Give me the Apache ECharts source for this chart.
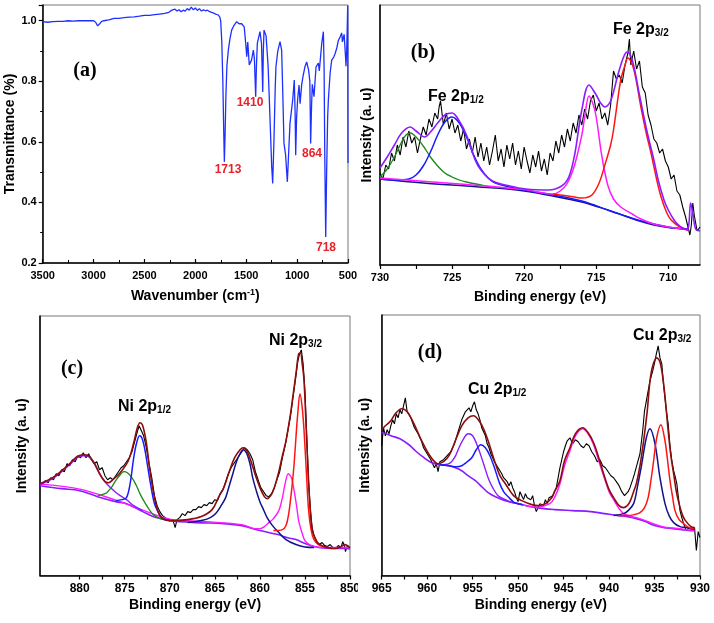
<!DOCTYPE html>
<html><head><meta charset="utf-8">
<script src="https://cdn.jsdelivr.net/npm/echarts@6/dist/echarts.min.js"></script>
<style>html,body{margin:0;padding:0;background:#fff}#c{width:714px;height:623px}</style>
</head><body><div id="c"></div>
<script>
// ---------- Panel (a): FT-IR ----------
const irTicks = [500, 1000, 1500, 2000, 2500, 3000, 3500];
const irSpectrum = [[3500,0.997],[3450,0.995],[3400,0.997],[3350,0.998],[3300,0.998],[3250,1.0],[3200,0.999],[3150,1.0],[3100,1.0],[3050,1.0],[3000,1.0],[2980,0.995],[2960,0.983],[2940,0.99],[2920,0.998],[2900,1.0],[2850,1.003],[2800,1.008],[2750,1.008],[2700,1.01],[2650,1.012],[2600,1.013],[2550,1.015],[2500,1.018],[2450,1.018],[2400,1.02],[2350,1.022],[2300,1.024],[2260,1.028],[2230,1.035],[2200,1.038],[2180,1.032],[2160,1.036],[2140,1.03],[2120,1.035],[2100,1.032],[2080,1.04],[2060,1.035],[2040,1.045],[2020,1.036],[2000,1.042],[1980,1.034],[1960,1.04],[1940,1.032],[1920,1.036],[1900,1.033],[1880,1.035],[1860,1.03],[1840,1.028],[1820,1.025],[1800,1.022],[1775,1.019],[1760,1.012],[1751,1.0],[1740,0.93],[1730,0.8],[1722,0.65],[1715,0.534],[1708,0.62],[1700,0.75],[1690,0.85],[1676,0.903],[1660,0.94],[1643,0.969],[1620,0.985],[1594,0.997],[1570,0.99],[1545,0.99],[1520,0.98],[1505,0.925],[1495,0.881],[1485,0.93],[1470,0.854],[1448,0.87],[1430,0.903],[1420,0.876],[1407,0.749],[1400,0.85],[1391,0.925],[1365,0.964],[1350,0.925],[1338,0.765],[1332,0.9],[1325,0.969],[1305,0.95],[1285,0.85],[1267,0.683],[1250,0.52],[1240,0.463],[1228,0.6],[1215,0.78],[1208,0.848],[1190,0.9],[1168,0.931],[1152,0.903],[1140,0.75],[1129,0.595],[1113,0.556],[1096,0.468],[1085,0.55],[1070,0.661],[1043,0.74],[1028,0.804],[1020,0.7],[1014,0.556],[1005,0.68],[995,0.74],[981,0.788],[971,0.726],[955,0.79],[940,0.82],[923,0.848],[906,0.864],[887,0.837],[875,0.8],[867,0.595],[858,0.72],[851,0.79],[843,0.77],[834,0.749],[814,0.848],[791,0.86],[782,0.834],[770,0.88],[758,0.925],[742,0.964],[735,0.85],[728,0.55],[719,0.286],[710,0.5],[700,0.68],[693,0.738],[675,0.83],[660,0.87],[640,0.88],[628,0.89],[610,0.91],[595,0.935],[578,0.946],[562,0.96],[555,0.93],[546,0.925],[538,0.955],[530,0.95],[524,0.88],[520,0.85],[513,0.9],[508,0.97],[503,1.05],[500,0.53]];
const irPeakLabels = ['1713', '1410', '864', '718'];

// ---------- Panel (b): Fe 2p ----------
const feTicks = [710, 715, 720, 725, 730];
const feRaw = [[730.0,92],[729.8,86],[729.6,100],[729.4,96],[729.2,112],[729.0,104],[728.8,120],[728.6,110],[728.4,128],[728.2,118],[728.0,134],[727.8,122],[727.6,128],[727.4,112],[727.2,126],[727.0,138],[726.8,130],[726.6,146],[726.4,138],[726.2,152],[726.0,146],[725.9,158],[725.8,164],[725.6,140],[725.4,152],[725.2,136],[725.0,146],[724.8,132],[724.6,140],[724.4,124],[724.2,136],[724.0,116],[723.8,126],[723.6,112],[723.4,128],[723.2,108],[723.0,122],[722.8,104],[722.6,118],[722.4,100],[722.2,114],[722.0,130],[721.8,104],[721.6,116],[721.4,98],[721.2,120],[721.0,106],[720.8,122],[720.6,100],[720.4,114],[720.2,96],[720.0,118],[719.8,104],[719.6,92],[719.4,110],[719.2,98],[719.0,114],[718.8,94],[718.6,106],[718.4,90],[718.2,112],[718.0,104],[717.8,124],[717.6,112],[717.4,130],[717.2,118],[717.0,136],[716.8,124],[716.6,142],[716.4,132],[716.2,150],[716.0,140],[715.8,156],[715.6,146],[715.4,164],[715.2,170],[715.0,154],[714.8,162],[714.6,146],[714.4,152],[714.2,140],[714.0,160],[713.8,194],[713.6,186],[713.4,190],[713.2,182],[713.0,200],[712.8,212],[712.7,226],[712.6,200],[712.4,214],[712.2,196],[712.0,204],[711.8,178],[711.6,172],[711.4,150],[711.2,140],[711.0,126],[710.8,122],[710.6,112],[710.4,116],[710.2,104],[710.0,98],[709.8,86],[709.6,90],[709.4,74],[709.2,70],[709.0,58],[708.8,48],[708.6,36],[708.5,30],[708.4,40],[708.3,62],[708.2,50],[708.0,34],[707.8,38]];
const feBackground = [[730,86],[727,82],[724,79],[722,77],[720,74],[718,69],[716,63],[714.2,55],[713,49],[712,44],[711,40],[710,37.5],[709,36],[708.6,35]];
const feGreen = [[730,88],[729.5,96],[729,108],[728.5,123],[728.2,130],[727.9,132],[727.5,128],[727,119],[726.5,108],[726,99],[725.5,92],[725,88],[724.5,85],[724,83],[723,80],[722,77]];
const feBlue = [[730,86],[729,85],[728,86],[727.5,90],[727,99],[726.5,113],[726,130],[725.5,143],[725,148],[724.5,142],[724,128],[723.5,110],[723,96],[722.5,87],[722,82],[721,78],[720,75],[718,70],[716,64],[714,54],[712,44.5],[710,38],[708.6,35.5]];
const feMagenta = [[730,87],[724,80.5],[720,75.5],[718,71],[717.5,74],[717,82],[716.5,100],[716,130],[715.8,148],[715.5,169],[715.2,160],[715,148],[714.6,108],[714.2,80],[713.8,66],[713.3,58],[712.5,51],[711.9,46],[711,41],[710,38],[709,36],[708.6,35]];
const feRed = [[718,71],[716.5,68],[716,67],[715.3,70],[714.8,82],[714.4,100],[714,120],[713.8,135],[713.3,185],[713,200],[712.8,207],[712.4,196],[711.9,158],[711.5,130],[711.2,112],[710.8,85],[710.5,68],[710.1,52],[709.8,45],[709.3,39],[708.8,36],[708.6,35]];
const feEnvelope = [[730,97],[729.5,108],[729,120],[728.5,132],[727.9,138],[727.5,134],[726.9,128],[726.5,133],[726,142],[725.5,150],[725,152],[724.5,144],[724,130],[723.4,105],[723,95],[722.2,84],[721,79],[719.9,76],[718.3,75],[717.4,79],[716.9,88],[716.5,110],[716.0,155],[715.5,180],[715.0,170],[714.7,162],[714.4,158],[714.0,164],[713.5,190],[713.1,208],[712.85,213],[712.5,205],[712,170],[711.5,135],[711,105],[710.7,85],[710.3,65],[710,55],[709.6,45],[709.3,40],[708.8,36],[708.6,38],[708.45,62],[708.3,52],[708.1,36],[707.8,34]];

// ---------- Panel (c): Ni 2p ----------
const niTicks = [850, 855, 860, 865, 870, 875, 880];
const niRaw = [[884.1,92],[883.8,95],[883.5,93],[883.2,98],[882.9,96],[882.6,102],[882.3,100],[882.0,106],[881.7,104],[881.4,112],[881.1,110],[880.8,116],[880.5,114],[880.2,120],[879.9,118],[879.6,123],[879.3,118],[879.0,122],[878.7,116],[878.4,112],[878.1,114],[877.8,106],[877.5,108],[877.2,100],[876.9,96],[876.6,98],[876.3,96],[876.0,100],[875.7,104],[875.4,108],[875.1,110],[874.8,114],[874.5,118],[874.2,124],[873.9,134],[873.6,144],[873.4,150],[873.2,146],[872.9,140],[872.6,128],[872.3,112],[872.0,98],[871.7,80],[871.4,70],[871.1,64],[870.8,60],[870.5,58],[870.2,56],[869.9,55],[869.6,54],[869.4,48],[869.2,56],[868.9,58],[868.6,62],[868.3,60],[868.0,64],[867.7,63],[867.4,66],[867.1,66],[866.8,69],[866.5,68],[866.2,71],[865.9,70],[865.6,73],[865.3,72],[865.0,76],[864.7,75],[864.4,82],[864.1,86],[863.8,94],[863.5,102],[863.2,108],[862.9,112],[862.6,116],[862.3,120],[862.0,124],[861.7,128],[861.4,126],[861.1,122],[860.8,116],[860.5,104],[860.2,96],[859.9,88],[859.6,84],[859.3,80],[859.0,79],[858.7,82],[858.4,88],[858.1,96],[857.8,104],[857.5,118],[857.2,130],[856.9,145],[856.6,160],[856.3,180],[856.0,200],[855.8,214],[855.6,222],[855.4,226],[855.2,212],[855.0,185],[854.8,140],[854.6,95],[854.4,66],[854.2,48],[854.0,40],[853.7,34],[853.4,31],[853.1,33],[852.8,30],[852.5,29],[852.2,31],[851.9,28],[851.6,27],[851.3,30],[851.0,28],[850.8,34],[850.6,29],[850.5,24],[850.3,30],[850.1,26]];
const niBackground = [[884.4,90],[882,87],[880,85],[878,79],[876,74],[874.8,72],[873,64],[871.5,58],[870,55],[867,53],[864,52],[862,50],[860,45],[858,41],[857,38],[856,36],[855,32],[854,29],[853,27.5],[851,27],[850,27]];
const niViolet = [[884.4,91],[883,97],[882,104],[881,112],[880.3,118],[879.6,120],[879,119],[878.5,114],[878,106],[877.5,98],[877,92],[876.2,85],[875.5,80],[874.8,76],[874,70],[873,65]];
const niGreen = [[878,80],[877.5,81],[877,83],[876.5,88],[876,95],[875.5,101],[875.1,104],[874.7,103],[874.2,98],[873.7,90],[873.2,80],[872.7,72],[872.2,65],[871.7,60],[871,57],[870,55]];
const niBlue = [[876,75],[875.3,76],[874.8,78],[874.4,92],[874,118],[873.7,132],[873.35,140],[873.1,138],[872.8,128],[872.5,112],[872.1,90],[871.7,72],[871.2,62],[870.8,57],[870,55]];
const niNavy = [[868,53],[866.5,55],[865.5,58],[864.9,62],[864.3,70],[863.8,78],[863.4,90],[863,102],[862.6,114],[862.2,122],[861.85,126],[861.5,123],[861.1,112],[860.8,98],[860.4,85],[860,74],[859.7,68],[859.2,58],[858.6,50],[858,44],[857.1,36],[856,31],[855,28.5],[854,28]];
const niMagenta = [[884.4,91.5],[880,86.5],[876,75.5],[873,65.5],[870,56.5],[866,54],[862,51],[860.5,47],[860,47],[859.5,49],[859,53],[858.5,57],[857.9,65],[857.5,78],[857.2,92],[856.85,102],[856.5,98],[856.2,85],[855.9,68],[855.7,55],[855.3,42],[855,35],[854.5,31],[854,29],[853,28],[850,28]];
const niRed = [[858.5,45],[857.5,46],[857.1,50],[856.8,62],[856.6,76],[856.4,92],[856.2,112],[856.0,138],[855.8,162],[855.55,182],[855.3,168],[855.1,145],[854.85,105],[854.6,66],[854.3,45],[854.0,36],[853.5,31],[853,29],[852,27]];
const niEnvelope = [[884.4,92],[883,98],[882,105],[881,113],[880.3,119],[879.6,121],[879,120],[878.4,113],[877.8,102],[877.2,94],[876.8,93],[876.2,97],[875.5,103],[874.6,115],[874,133],[873.6,148],[873.3,153],[873,150],[872.6,133],[872.2,105],[871.7,78],[871.3,64],[870.9,58],[870,55],[868,56],[866.5,59],[865.3,66],[864.5,80],[864,88],[863.4,104],[862.8,118],[862.2,126],[861.85,128],[861.4,124],[860.9,112],[860.4,98],[859.9,86],[859.5,79],[859.2,77],[858.8,80],[858.4,88],[857.9,104],[857.5,120],[857.1,135],[856.6,162],[856.3,182],[856.0,202],[855.7,222],[855.5,223],[855.3,212],[855.1,195],[854.85,145],[854.6,95],[854.4,65],[854.2,46],[853.9,38],[853.5,32],[852.5,28],[851.7,27],[851,29],[850.6,31],[850,28]];

// ---------- Panel (d): Cu 2p ----------
const cuTicks = [930, 935, 940, 945, 950, 955, 960, 965];
const cuRaw = [[965.0,130],[964.8,148],[964.6,140],[964.4,146],[964.2,142],[964.0,150],[963.8,156],[963.6,152],[963.4,162],[963.2,158],[963.0,166],[962.8,162],[962.6,170],[962.4,178],[962.2,164],[962.0,166],[961.8,158],[961.6,156],[961.4,148],[961.2,150],[961.0,142],[960.8,138],[960.6,134],[960.4,128],[960.2,130],[960.0,122],[959.8,120],[959.6,116],[959.4,118],[959.2,108],[959.0,112],[958.8,104],[958.6,114],[958.4,112],[958.2,116],[958.0,114],[957.8,120],[957.6,118],[957.4,124],[957.2,128],[957.0,132],[956.8,138],[956.6,144],[956.4,150],[956.2,156],[956.0,160],[955.8,164],[955.6,162],[955.4,168],[955.2,164],[955.0,170],[954.8,174],[954.6,166],[954.4,162],[954.2,156],[954.0,148],[953.8,146],[953.6,140],[953.4,132],[953.2,128],[953.0,122],[952.8,120],[952.6,114],[952.4,116],[952.2,108],[952.0,110],[951.8,102],[951.6,98],[951.4,96],[951.2,94],[951.0,90],[950.8,94],[950.6,88],[950.4,84],[950.2,78],[950.0,74],[949.8,84],[949.6,80],[949.4,76],[949.2,82],[949.0,78],[948.8,80],[948.6,76],[948.4,80],[948.2,70],[948.0,64],[947.8,62],[947.6,72],[947.4,74],[947.2,70],[947.0,76],[946.8,72],[946.6,78],[946.4,76],[946.2,80],[946.0,84],[945.8,88],[945.6,98],[945.4,108],[945.2,116],[945.0,124],[944.8,130],[944.6,135],[944.3,138],[944.0,132],[943.7,136],[943.4,134],[943.1,130],[942.8,128],[942.5,132],[942.2,130],[941.9,124],[941.6,120],[941.3,114],[941.0,116],[940.7,110],[940.4,108],[940.1,104],[939.8,100],[939.5,98],[939.2,94],[938.9,90],[938.6,84],[938.3,80],[938.1,78],[937.9,84],[937.7,88],[937.4,96],[937.2,102],[936.9,112],[936.6,122],[936.3,145],[936.1,165],[935.8,180],[935.5,195],[935.2,205],[934.95,215],[934.8,222],[934.6,230],[934.4,218],[934.2,212],[934.0,190],[933.85,178],[933.7,165],[933.5,152],[933.3,130],[933.1,115],[932.9,105],[932.7,98],[932.55,92],[932.4,80],[932.2,65],[932.0,58],[931.8,52],[931.5,45],[931.2,48],[930.9,46],[930.6,48],[930.4,25],[930.2,44],[930.0,38]];
const cuBackground = [[965,143],[964.5,142],[964,140],[963,137],[962,131],[961.3,125],[960.5,119],[959.5,113],[958.5,111],[957.6,110],[956.9,108],[956.2,105],[955.5,100],[954.7,95],[954,89],[953.3,83],[952.5,79],[951.4,75],[950,72],[948,68],[946,66],[944,65],[942,64],[940.5,62],[939,60],[938,59],[937,57],[936,54],[935,50],[934,48],[933,47],[932,46],[931,45],[930.6,45]];
const cuViolet = [[958.5,111],[957.6,112],[957,118],[956.5,128],[956,137],[955.5,142],[955,140],[954.4,128],[953.8,112],[953.3,98],[952.8,88],[952.2,80],[951.4,76],[950.7,73],[950,72]];
const cuBlue = [[958.6,111],[957.6,110],[956.8,109],[956.2,110],[955.6,114],[955.1,118],[954.6,126],[954.1,131],[953.6,128],[953.1,120],[952.6,108],[952.1,94],[951.6,84],[951,78],[950.4,73],[949.5,71]];
const cuMagenta = [[950,72],[948,68.5],[946.5,72],[946,78],[945.4,92],[944.9,110],[944.3,125],[943.7,140],[942.9,147],[942.3,142],[941.7,131],[941.1,114],[940.6,100],[940,84],[939.5,76],[938.9,67],[938.4,62],[937.7,59.5],[937,58],[936,55],[935,51.5],[934,48.5],[933,47.5],[932,46.5],[931,45.5],[930.6,45.5]];
const cuNavy = [[939.5,60],[938.4,62],[937.9,65],[937.3,72],[936.9,88],[936.4,112],[935.9,138],[935.5,147],[934.95,132],[934.4,98],[933.85,72],[933.4,60],[932.9,53],[932.2,49],[931.5,48],[930.6,46]];
const cuRed = [[939,60],[938,60],[937.2,61],[936.6,63],[936.1,68],[935.7,78],[935.4,95],[935.14,112],[934.76,138],[934.3,151],[933.85,135],[933.6,118],[933.3,95],[933.0,78],[932.75,65],[932.3,56],[931.8,52],[931.2,48],[930.6,47]];
const cuEnvelope = [[965,146],[964.6,150],[964,155],[963.5,162],[962.8,167],[962.2,164],[961.5,153],[960.6,135],[959.7,120],[958.8,112],[958.2,114],[957.6,120],[956.9,135],[956.2,150],[955.5,158],[954.9,160],[954.3,155],[953.8,147],[953.3,135],[952.6,115],[952,100],[951.4,92],[950.5,80],[949.6,75],[948.5,71],[947.8,70],[947,72],[946.3,78],[946,84],[945.4,95],[944.9,115],[944.3,128],[943.7,142],[942.9,148],[942.3,143],[941.7,133],[941.1,117],[940.6,102],[940,86],[939.5,78],[938.9,70],[938.4,68],[938,70],[937.7,74],[937.3,84],[937,92],[936.6,110],[936.2,135],[935.8,165],[935.5,195],[935.2,210],[934.76,218],[934.4,214],[934.04,195],[933.75,170],[933.5,145],[933.2,120],[932.9,102],[932.6,84],[932.3,72],[931.9,60],[931.6,55],[931,49],[930.6,48]];

// ---------- build chart ----------
const FONT = '"Liberation Sans", Arial, sans-serif';
const SERIF = '"Liberation Serif", "Times New Roman", serif';
const C = {black:'#000000', irBlue:'#1e30ff', green:'#1a8a1a', blue:'#1a1aff', violet:'#8a1cff', navy:'#12128c', magenta:'#ff1aff', red:'#ff1414', wine:'#8e0c0c', note:'#e8202a'};

function halfTicks(t){ const out=[]; for(let i=0;i<t.length;i++){ out.push(t[i]); if(i<t.length-1) out.push((t[i]+t[i+1])/2); } return out; }

function xpsX(gi, min, max, labels, fs, gap){
  return {gridIndex:gi, type:'value', min:min, max:max, inverse:true,
    axisLine:{show:true, onZero:false, lineStyle:{color:'#000', width:1.5}},
    axisTick:{show:true, length:4, customValues:halfTicks(labels), lineStyle:{color:'#000', width:1.2}},
    axisLabel:{customValues:labels, fontSize:fs, fontWeight:'bold', color:'#000', fontFamily:FONT, margin:7,
      formatter:function(v){ return String(v); }},
    splitLine:{show:false},
    name:'Binding energy (eV)', nameLocation:'middle', nameGap:gap,
    nameTextStyle:{fontSize:14, fontWeight:'bold', color:'#000', fontFamily:FONT}};
}
function xpsY(gi, max, gap){
  return {gridIndex:gi, type:'value', min:0, max:max,
    axisLine:{show:true, lineStyle:{color:'#000', width:1.5}},
    axisTick:{show:false}, axisLabel:{show:false}, splitLine:{show:false},
    name:'Intensity (a. u)', nameLocation:'middle', nameRotate:90, nameGap:gap,
    nameTextStyle:{fontSize:14, fontWeight:'bold', color:'#000', fontFamily:FONT}};
}
function line(i, data, color, width, smooth, z){
  return {type:'line', xAxisIndex:i, yAxisIndex:i, data:data, showSymbol:false, symbol:'none',
    smooth:smooth ? 0.35 : false, lineStyle:{color:color, width:width}, itemStyle:{color:color},
    animation:false, z:z || 2, silent:true};
}
function peakLabel(x, y, main, sub){
  return {type:'text', x:x, y:y, z:50, style:{text:'{m|'+main+'}{s|'+sub+'}', align:'left', verticalAlign:'middle',
    rich:{m:{fontSize:16, fontWeight:'bold', fontFamily:FONT, fill:'#000', lineHeight:18, verticalAlign:'bottom'},
          s:{fontSize:10, fontWeight:'bold', fontFamily:FONT, fill:'#000', lineHeight:18, verticalAlign:'bottom'}}}};
}
function panelTag(x, y, t){
  return {type:'text', x:x, y:y, z:50, style:{text:t, font:'bold 20px '+SERIF, fill:'#000', align:'center', verticalAlign:'middle'}};
}
function note(x, y, t){
  return {type:'text', x:x, y:y, z:50, style:{text:t, font:'bold 12px '+FONT, fill:C.note, align:'center', verticalAlign:'middle'}};
}

const option = {
  backgroundColor:'#ffffff',
  animation:false,
  grid:[
    {left:42.7, right:366, top:5, bottom:360, show:true, borderColor:'#777', borderWidth:1},
    {left:380, right:14, top:5, bottom:358, show:true, borderColor:'#777', borderWidth:1},
    {left:40, right:364, top:316, bottom:47.5, show:true, borderColor:'#777', borderWidth:1},
    {left:381.7, right:14, top:315, bottom:47.5, show:true, borderColor:'#777', borderWidth:1}
  ],
  xAxis:[
    {gridIndex:0, type:'value', min:500, max:3500, interval:500, inverse:true,
      axisLine:{show:true, onZero:false, lineStyle:{color:'#000', width:1.5}},
      axisTick:{show:true, inside:true, length:4, lineStyle:{color:'#000', width:1.2}},
      minorTick:{show:true, splitNumber:2, length:3, lineStyle:{color:'#000', width:1}},
      axisLabel:{fontSize:11, fontWeight:'bold', color:'#000', fontFamily:FONT, margin:7,
        formatter:function(v){ return String(v); }},
      splitLine:{show:false}, minorSplitLine:{show:false},
      name:'Wavenumber (cm{sup|-1})', nameLocation:'middle', nameGap:25,
      nameTextStyle:{fontSize:14, fontWeight:'bold', color:'#000', fontFamily:FONT,
        rich:{sup:{fontSize:9, fontWeight:'bold', fontFamily:FONT, color:'#000', verticalAlign:'top', padding:[0,0,8,0]}}}},
    xpsX(1, 707.8, 730, feTicks, 11, 25),
    xpsX(2, 850, 884.4, niTicks, 12, 23),
    xpsX(3, 930, 965, cuTicks, 12, 23)
  ],
  yAxis:[
    {gridIndex:0, type:'value', min:0.2, max:1.052, interval:0.2,
      axisLine:{show:true, onZero:false, lineStyle:{color:'#000', width:1.5}},
      axisTick:{show:true, length:4, lineStyle:{color:'#000', width:1.2}},
      minorTick:{show:true, splitNumber:2, length:2.5, lineStyle:{color:'#000', width:1}},
      axisLabel:{fontSize:11, fontWeight:'bold', color:'#000', fontFamily:FONT, margin:6, showMaxLabel:false,
        formatter:function(v){ return v.toFixed(1); }},
      splitLine:{show:false}, minorSplitLine:{show:false},
      name:'Transmittance (%)', nameLocation:'middle', nameRotate:90, nameGap:25,
      nameTextStyle:{fontSize:14, fontWeight:'bold', color:'#000', fontFamily:FONT}},
    xpsY(1, 260, 6),
    xpsY(2, 260, 11),
    xpsY(3, 261, 10)
  ],
  series:[
    line(0, irSpectrum, C.irBlue, 1.3, false, 3),

    line(1, feRaw, C.black, 1.1, false, 2),
    line(1, feBackground, C.navy, 1.5, true, 3),
    line(1, feGreen, C.green, 1.3, true, 4),
    line(1, feBlue, C.blue, 1.5, true, 4),
    line(1, feMagenta, C.magenta, 1.5, true, 4),
    line(1, feRed, C.red, 1.5, true, 4),
    line(1, feEnvelope, C.violet, 1.6, true, 5),

    line(2, niRaw, C.black, 1.1, false, 2),
    line(2, niBackground, C.violet, 1.6, true, 3),
    line(2, niMagenta, C.magenta, 1.4, true, 4),
    line(2, niViolet, C.violet, 1.4, true, 4),
    line(2, niGreen, C.green, 1.3, true, 4),
    line(2, niBlue, C.blue, 1.5, true, 4),
    line(2, niNavy, C.navy, 1.5, true, 4),
    line(2, niRed, C.red, 1.5, true, 4),
    line(2, niEnvelope, C.wine, 1.6, true, 5),

    line(3, cuRaw, C.black, 1.1, false, 2),
    line(3, cuBackground, C.violet, 1.6, true, 3),
    line(3, cuMagenta, C.magenta, 1.5, true, 4),
    line(3, cuViolet, C.violet, 1.4, true, 4),
    line(3, cuBlue, C.blue, 1.5, true, 4),
    line(3, cuNavy, C.navy, 1.5, true, 4),
    line(3, cuRed, C.red, 1.5, true, 4),
    line(3, cuEnvelope, C.wine, 1.6, true, 5)
  ],
  graphic:[
    {type:'rect', shape:{x:358, y:578, width:13, height:20}, style:{fill:'#fff'}, z:40},
    panelTag(85, 71, '(a)'),
    note(228, 170, irPeakLabels[0]),
    note(250, 103, irPeakLabels[1]),
    note(312, 154, irPeakLabels[2]),
    note(326, 248, irPeakLabels[3]),
    panelTag(423, 53, '(b)'),
    peakLabel(428, 96, 'Fe 2p', '1/2'),
    peakLabel(613, 29, 'Fe 2p', '3/2'),
    panelTag(72, 369, '(c)'),
    peakLabel(118, 406, 'Ni 2p', '1/2'),
    peakLabel(269, 340, 'Ni 2p', '3/2'),
    panelTag(430, 353, '(d)'),
    peakLabel(468, 389, 'Cu 2p', '1/2'),
    peakLabel(633, 335, 'Cu 2p', '3/2')
  ]
};
const chart = echarts.init(document.getElementById('c'), null, {renderer:'canvas'});
chart.setOption(option);
</script>
</body></html>
